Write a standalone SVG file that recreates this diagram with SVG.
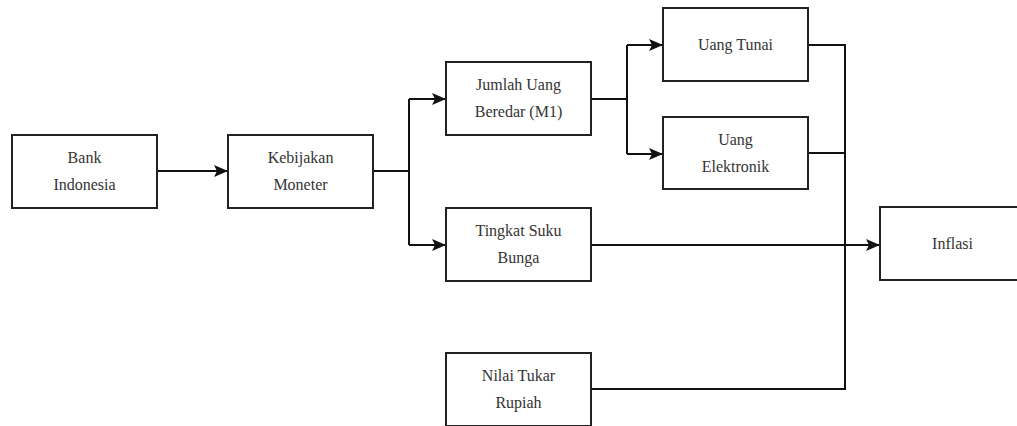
<svg xmlns="http://www.w3.org/2000/svg" width="1017" height="426" viewBox="0 0 1017 426" font-family="Liberation Serif, DejaVu Serif, serif">
<style>
.box{fill:#fff;stroke:#222;stroke-width:2}
.t{font-size:16px;fill:#333;text-anchor:middle}
.c{fill:none;stroke:#111;stroke-width:2}
</style>
<defs>
<marker id="ah" markerWidth="14" markerHeight="12" refX="13" refY="6" orient="auto" markerUnits="userSpaceOnUse">
<path d="M0,0 L14,6 L0,12 L3,6 Z" fill="#111"/>
</marker>
</defs>
<rect width="1017" height="426" fill="#fff"/>
<g id="connectors">
<path class="c" d="M157,171 H227" marker-end="url(#ah)"/>
<path class="c" d="M373,171 H409"/>
<path class="c" d="M409,99 V245"/>
<path class="c" d="M409,99 H445" marker-end="url(#ah)"/>
<path class="c" d="M409,245 H445" marker-end="url(#ah)"/>
<path class="c" d="M591,99 H627"/>
<path class="c" d="M627,45 V154"/>
<path class="c" d="M627,45 H662" marker-end="url(#ah)"/>
<path class="c" d="M627,154 H662" marker-end="url(#ah)"/>
<path class="c" d="M808,45 H845 V389 H591"/>
<path class="c" d="M808,153 H845"/>
<path class="c" d="M591,245 H879" marker-end="url(#ah)"/>
</g>
<g id="bank"><rect class="box" x="12" y="135" width="145" height="73"/><text class="t" x="84.5" y="163">Bank</text><text class="t" x="84.5" y="190">Indonesia</text></g>
<g id="kebijakan"><rect class="box" x="228" y="135" width="145" height="73"/><text class="t" x="300.5" y="163">Kebijakan</text><text class="t" x="300.5" y="190">Moneter</text></g>
<g id="jumlah"><rect class="box" x="446" y="62" width="145" height="73"/><text class="t" x="518.5" y="90">Jumlah Uang</text><text class="t" x="518.5" y="117">Beredar (M1)</text></g>
<g id="tingkat"><rect class="box" x="446" y="208" width="145" height="73"/><text class="t" x="518.5" y="236">Tingkat Suku</text><text class="t" x="518.5" y="263">Bunga</text></g>
<g id="nilai"><rect class="box" x="446" y="353" width="145" height="73"/><text class="t" x="518.5" y="381">Nilai Tukar</text><text class="t" x="518.5" y="408">Rupiah</text></g>
<g id="tunai"><rect class="box" x="663" y="8" width="145" height="73"/><text class="t" x="735.5" y="50">Uang Tunai</text></g>
<g id="elektronik"><rect class="box" x="663" y="117" width="145" height="72"/><text class="t" x="735.5" y="145">Uang</text><text class="t" x="735.5" y="172">Elektronik</text></g>
<g id="inflasi"><rect class="box" x="880" y="207" width="145" height="73"/><text class="t" x="952.5" y="249">Inflasi</text></g>
</svg>
